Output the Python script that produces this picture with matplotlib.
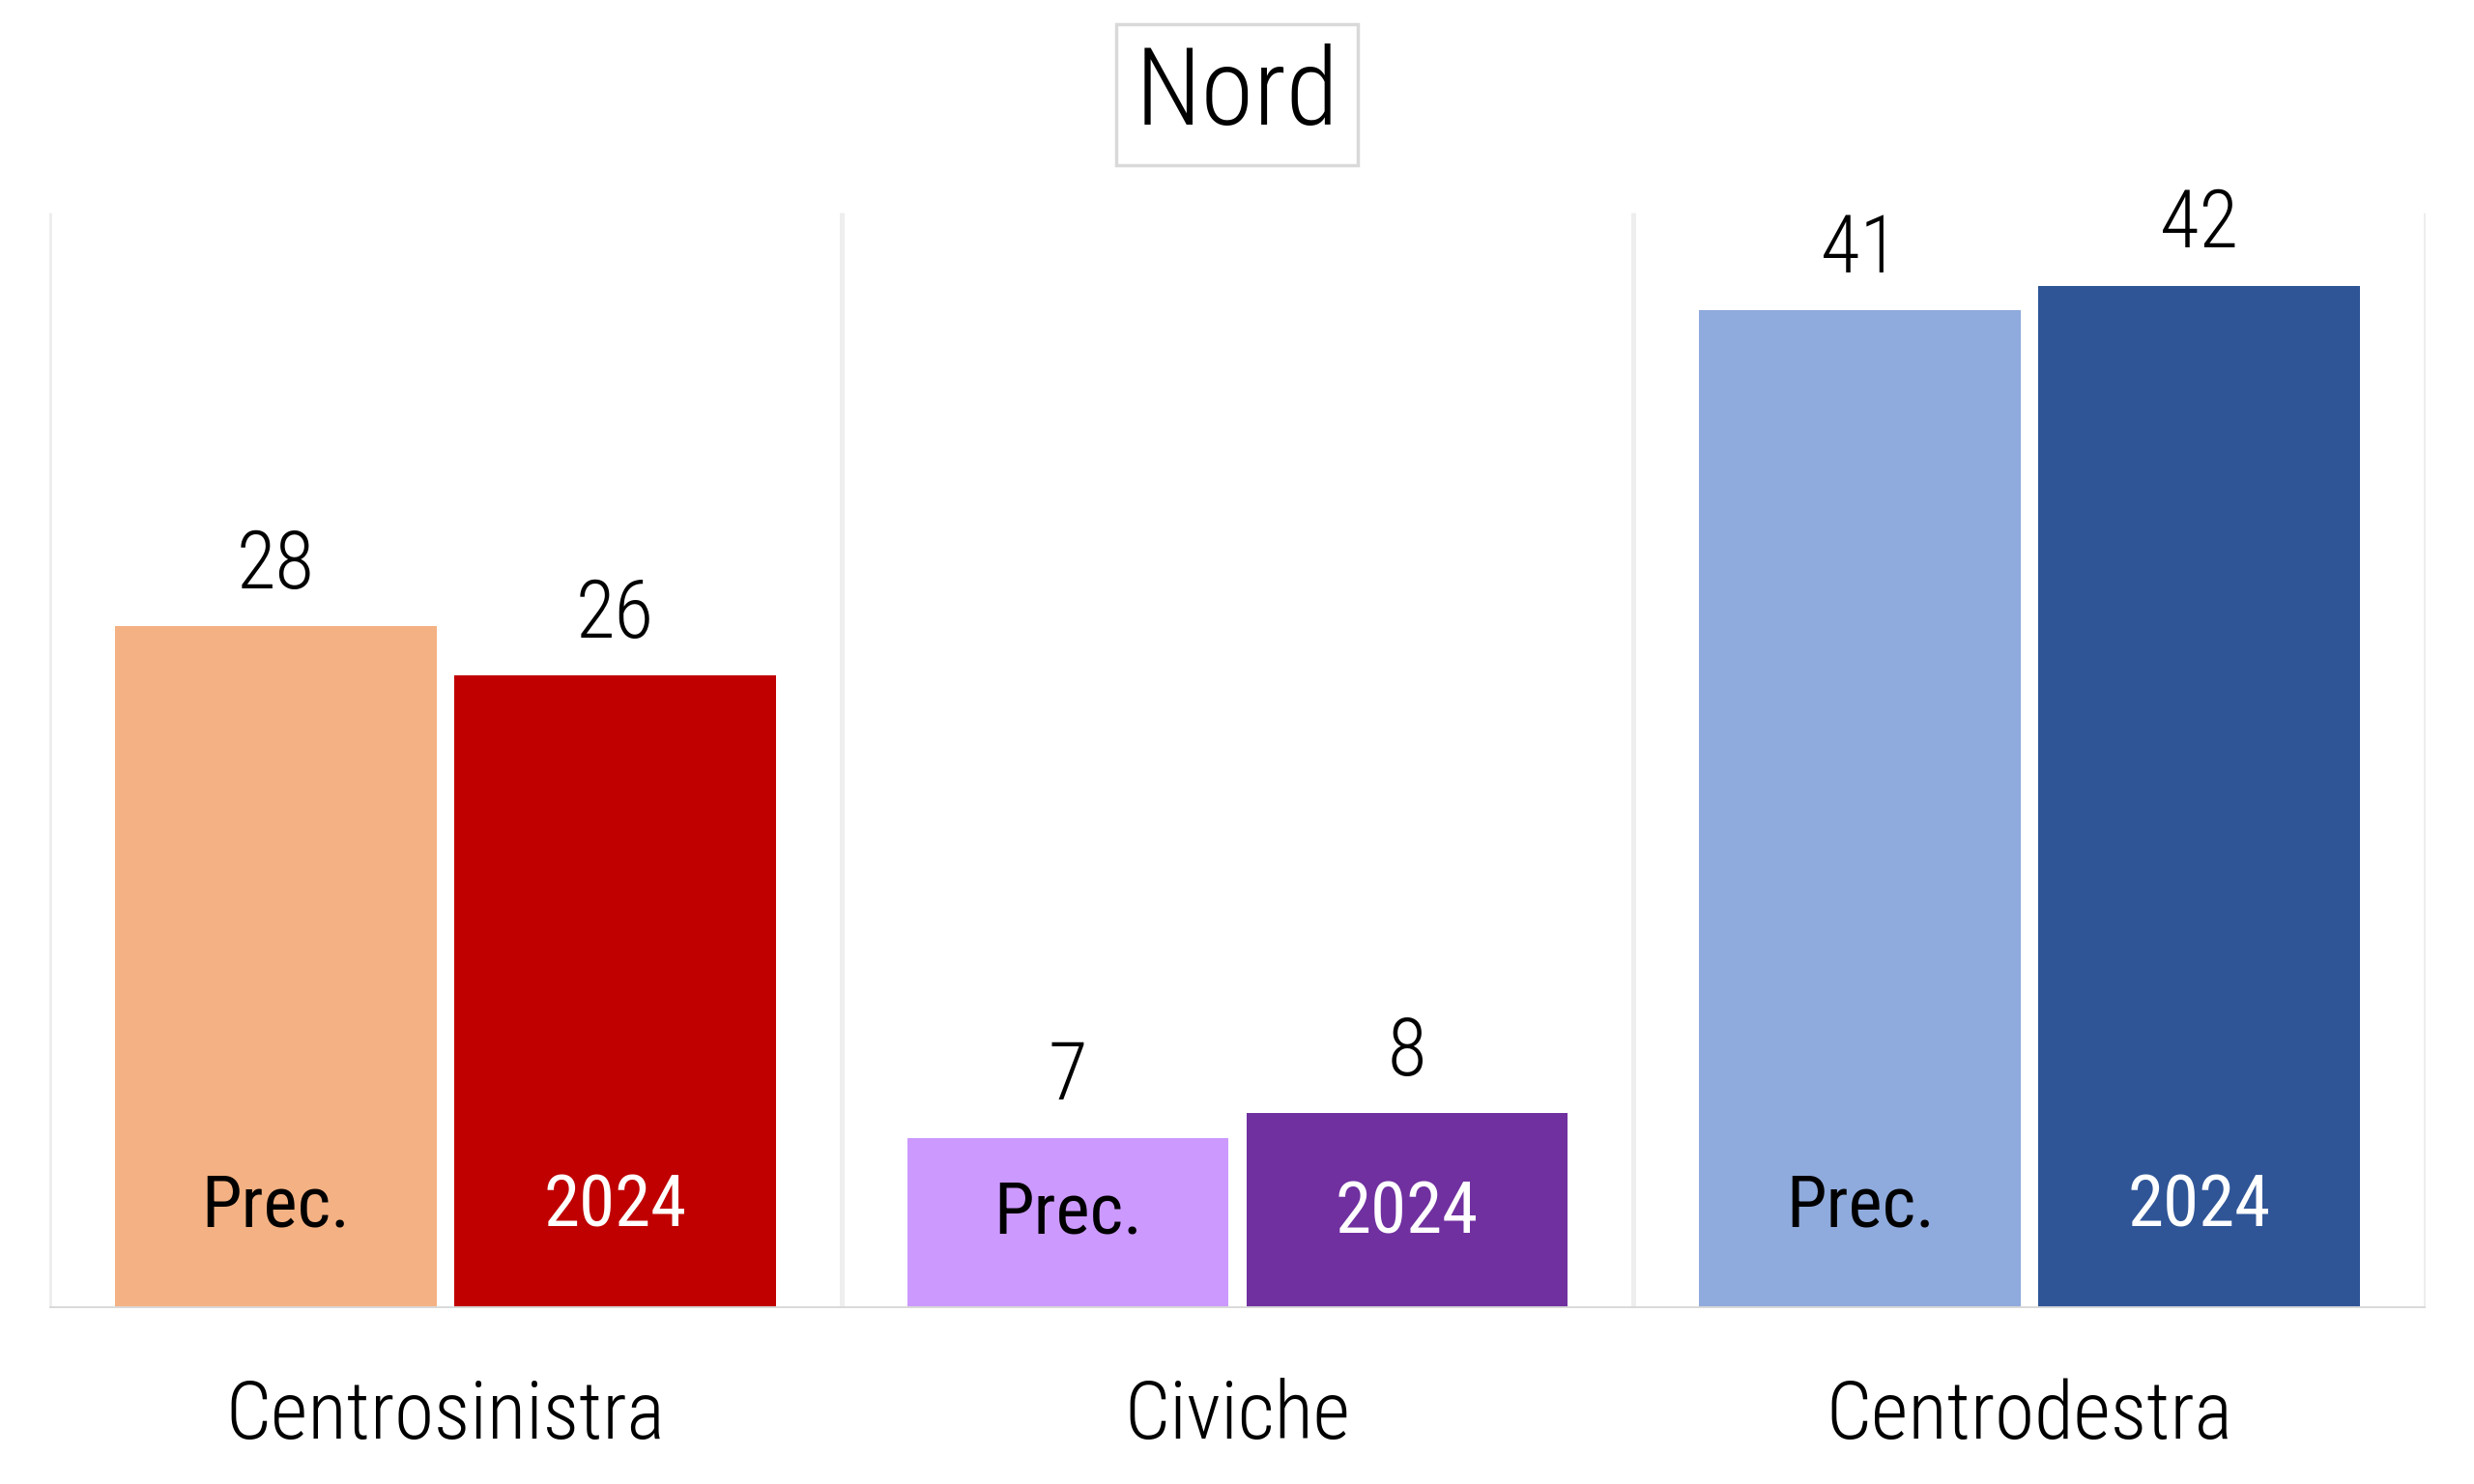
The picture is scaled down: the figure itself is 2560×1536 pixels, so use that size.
import matplotlib
matplotlib.use('Agg')
import matplotlib.pyplot as plt
import numpy as np

plt.rcParams['font.family'] = ['Roboto Condensed', 'Liberation Sans Narrow', 'Roboto', 'DejaVu Sans']
plt.rcParams['font.stretch'] = 'condensed'
plt.rcParams['font.weight'] = 'light'

# data
categories = ['Centrosinistra', 'Civiche', 'Centrodestra']
prec_values = [28, 7, 41]
values_2024 = [26, 8, 42]
prec_colors = ['#F4B183', '#CC99FF', '#8FAADC']
colors_2024 = ['#C00000', '#7030A0', '#2F5597']
inner_labels = ['Prec.', '2024']
inner_label_y = [4.15, 3.9, 4.15]

fig = plt.figure(figsize=(25.6, 15.36), dpi=100)
ax = fig.add_axes([0.0199, 0.1185, 0.9606, 0.7383])

x = np.arange(len(categories))
w = 0.406
off = 0.214

# separators between categories
for b in np.arange(-0.5, len(categories), 1.0):
    ax.plot([b, b], [0, 45], color='#EEEEEE', lw=3.6, zorder=0, solid_capstyle='butt')
ax.axhline(0, color='#D9D9D9', lw=2.8, zorder=3)

bars_prec = ax.bar(x - off, prec_values, width=w, color=prec_colors, zorder=2)
bars_2024 = ax.bar(x + off, values_2024, width=w, color=colors_2024, zorder=2)

# value labels above bars
for xs, vals in [(x - off, prec_values), (x + off, values_2024)]:
    for xi, v in zip(xs, vals):
        ax.annotate(str(v), (xi, v), xytext=(0, 16), textcoords='offset points',
                    ha='center', va='bottom', fontsize=60, color='black')

# labels inside bars
for i in range(len(categories)):
    ax.text(x[i] - off, inner_label_y[i], inner_labels[0], ha='center', va='center',
            fontsize=54, color='black', fontweight='normal')
    ax.text(x[i] + off, inner_label_y[i], inner_labels[1], ha='center', va='center',
            fontsize=54, color='white', fontweight='normal')

ax.set_xlim(-0.5, 2.5)
ax.set_ylim(0, 45)
ax.set_xticks(x)
ax.set_xticklabels(categories, fontsize=60)
ax.tick_params(axis='x', length=0, pad=52)
ax.set_yticks([])
for s in ax.spines.values():
    s.set_visible(False)

fig.text(0.5, 0.936, 'Nord', ha='center', va='center', fontsize=80,
         bbox=dict(boxstyle='square,pad=0.18', fc='white', ec='#D9D9D9', lw=2.5))

fig.savefig('out.png', dpi=100, facecolor='white')
